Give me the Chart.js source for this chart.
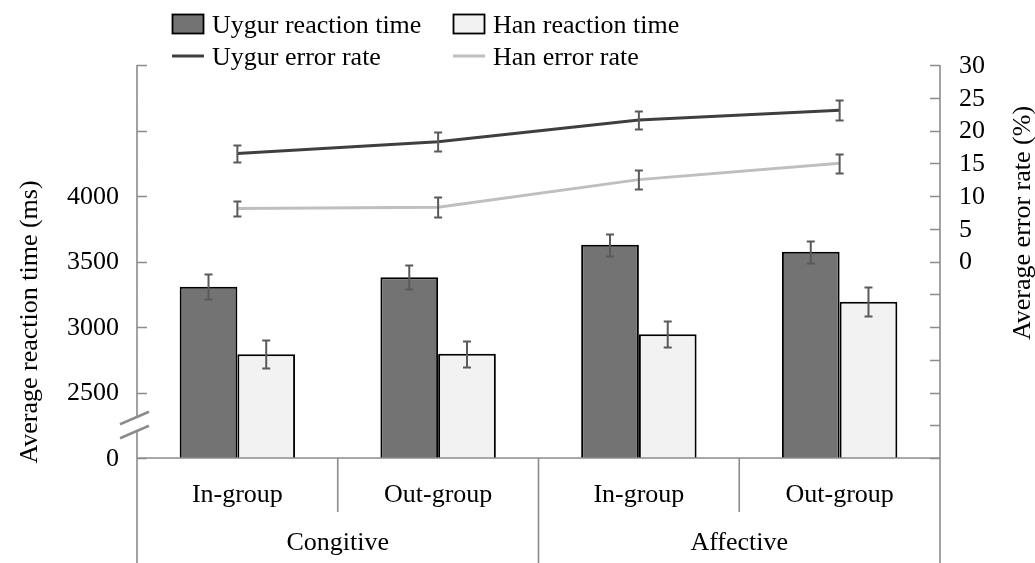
<!DOCTYPE html>
<html><head><meta charset="utf-8">
<script src="https://cdn.jsdelivr.net/npm/chart.js@4.4.0/dist/chart.umd.min.js"></script>
<style>html,body{margin:0;padding:0;background:#fff;}canvas{display:block;}</style>
</head><body>
<canvas id="c" width="1035" height="563"></canvas>
<script>
// ---- data ----
const categories = ['In-group', 'Out-group', 'In-group', 'Out-group'];
const groups = ['Congitive', 'Affective'];
const uygurRT = [3307, 3379, 3628, 3575];
const uygurRTErr = [94, 92, 85, 84];
const hanRT = [2792, 2796, 2944, 3193];
const hanRTErr = [105, 99, 100, 111];
const uygurErrRate = [16.5, 18.3, 21.6, 23.1];
const uygurErrRateSE = [1.3, 1.5, 1.4, 1.5];
const hanErrRate = [8.1, 8.3, 12.5, 15.0];
const hanErrRateSE = [1.1, 1.5, 1.45, 1.45];
const leftTickValues = [2000, 2500, 3000, 3500, 4000, 4500, 5000];
const leftTickLabels = ['0', '2500', '3000', '3500', '4000', '', ''];
const rightTickValues = [-30, -25, -20, -15, -10, -5, 0, 5, 10, 15, 20, 25, 30];
const rightTickLabels = ['', '', '', '', '', '', '0', '5', '10', '15', '20', '25', '30'];
const seriesNames = ['Uygur reaction time', 'Han reaction time', 'Uygur error rate', 'Han error rate'];
const leftTitle = 'Average reaction time (ms)';
const rightTitle = 'Average error rate (%)';

const FONT = '26px "Liberation Serif", "Times New Roman", serif';
const TEXT = '#000000';
const AXIS = '#8c8c8c';
const UY_BAR = '#737373', HAN_BAR = '#f2f2f2';
const UY_LINE = '#3f3f3f', HAN_LINE = '#bfbfbf';
const ERR = '#5a5a5a';

const overlay = {
  id: 'overlay',
  afterDraw(chart) {
    const ctx = chart.ctx, ca = chart.chartArea;
    const xs = chart.scales.x, ys = chart.scales.y, ys2 = chart.scales.y2;
    const H = chart.height;
    ctx.save();

    // error bars
    ctx.strokeStyle = ERR; ctx.lineWidth = 2;
    const drawErr = (px, val, err, scale) => {
      const t = Math.round(scale.getPixelForValue(val + err)) + 0.5;
      const b = Math.round(scale.getPixelForValue(val - err)) + 0.5;
      ctx.beginPath();
      ctx.moveTo(px, t); ctx.lineTo(px, b);
      ctx.moveTo(px - 4, t); ctx.lineTo(px + 4, t);
      ctx.moveTo(px - 4, b); ctx.lineTo(px + 4, b);
      ctx.stroke();
    };
    const sets = [[0, uygurRT, uygurRTErr, ys], [1, hanRT, hanRTErr, ys],
                  [2, uygurErrRate, uygurErrRateSE, ys2], [3, hanErrRate, hanErrRateSE, ys2]];
    sets.forEach(([di, vals, errs, sc]) => {
      const meta = chart.getDatasetMeta(di);
      meta.data.forEach((el, j) => drawErr(el.x, vals[j], errs[j], sc));
    });

    // axes
    ctx.strokeStyle = AXIS; ctx.lineWidth = 1.6;
    ctx.beginPath();
    ctx.moveTo(ca.left, ca.top); ctx.lineTo(ca.left, H);
    ctx.moveTo(ca.right, ca.top); ctx.lineTo(ca.right, H);
    ctx.moveTo(ca.left, ca.bottom); ctx.lineTo(ca.right, ca.bottom);
    leftTickValues.forEach(v => {
      const p = Math.round(ys.getPixelForValue(v)) + 0.5;
      ctx.moveTo(ca.left, p); ctx.lineTo(ca.left + 10, p);
    });
    rightTickValues.forEach(v => {
      const p = Math.round(ys2.getPixelForValue(v)) + 0.5;
      ctx.moveTo(ca.right - 10, p); ctx.lineTo(ca.right, p);
    });
    // category separators
    const centers = categories.map((c, i) => xs.getPixelForValue(i));
    for (let i = 0; i < centers.length - 1; i++) {
      const bx = (centers[i] + centers[i + 1]) / 2;
      const mid = (i + 1) % 2 === 0;
      ctx.moveTo(bx, ca.bottom); ctx.lineTo(bx, mid ? H : ca.bottom + 54);
    }
    ctx.stroke();

    // axis break marker
    const by = ys.getPixelForValue(2250);
    const x0 = ca.left - 17, x1 = ca.left + 12;
    ctx.fillStyle = '#ffffff';
    ctx.beginPath();
    ctx.moveTo(x0, by - 1); ctx.lineTo(x1, by - 13.5);
    ctx.lineTo(x1, by + 0.5); ctx.lineTo(x0, by + 13);
    ctx.closePath(); ctx.fill();
    ctx.strokeStyle = AXIS; ctx.lineWidth = 2.5;
    ctx.beginPath();
    ctx.moveTo(x0, by - 1); ctx.lineTo(x1, by - 13.5);
    ctx.moveTo(x0, by + 13); ctx.lineTo(x1, by + 0.5);
    ctx.stroke();

    // tick labels
    ctx.font = FONT; ctx.fillStyle = TEXT; ctx.textBaseline = 'middle';
    ctx.textAlign = 'right';
    leftTickValues.forEach((v, i) => {
      if (leftTickLabels[i]) ctx.fillText(leftTickLabels[i], ca.left - 18, ys.getPixelForValue(v) + 1);
    });
    ctx.textAlign = 'left';
    rightTickValues.forEach((v, i) => {
      if (rightTickLabels[i]) ctx.fillText(rightTickLabels[i], ca.right + 19, ys2.getPixelForValue(v) + 1);
    });

    // category labels
    ctx.textAlign = 'center'; ctx.textBaseline = 'alphabetic';
    categories.forEach((c, i) => ctx.fillText(c, centers[i], ca.bottom + 44));
    groups.forEach((g, k) => ctx.fillText(g, (centers[2 * k] + centers[2 * k + 1]) / 2, ca.bottom + 92));

    // axis titles
    ctx.save();
    ctx.translate(37, 322); ctx.rotate(-Math.PI / 2);
    ctx.textAlign = 'center'; ctx.fillText(leftTitle, 0, 0);
    ctx.restore();
    ctx.save();
    ctx.translate(1030, 223); ctx.rotate(-Math.PI / 2);
    ctx.textAlign = 'center'; ctx.fillText(rightTitle, 0, 0);
    ctx.restore();

    // legend
    ctx.textAlign = 'left'; ctx.textBaseline = 'alphabetic';
    const legendItems = [
      {type: 'box', fill: UY_BAR, x: 172, y: 33, name: seriesNames[0]},
      {type: 'box', fill: HAN_BAR, x: 453, y: 33, name: seriesNames[1]},
      {type: 'line', fill: UY_LINE, x: 172, y: 65, name: seriesNames[2]},
      {type: 'line', fill: HAN_LINE, x: 453, y: 65, name: seriesNames[3]}
    ];
    legendItems.forEach(it => {
      if (it.type === 'box') {
        ctx.fillStyle = it.fill; ctx.fillRect(it.x + 0.5, it.y - 18.5, 31, 19);
        ctx.strokeStyle = '#000'; ctx.lineWidth = 1.8; ctx.strokeRect(it.x + 0.5, it.y - 18.5, 31, 19);
      } else {
        ctx.strokeStyle = it.fill; ctx.lineWidth = 3;
        ctx.beginPath(); ctx.moveTo(it.x, it.y - 9); ctx.lineTo(it.x + 32, it.y - 9); ctx.stroke();
      }
      ctx.fillStyle = TEXT;
      ctx.fillText(it.name, it.x + 40, it.y);
    });
    ctx.restore();
  }
};

new Chart(document.getElementById('c'), {
  data: {
    labels: categories,
    datasets: [
      {type: 'bar', label: seriesNames[0], data: uygurRT, yAxisID: 'y', order: 1,
       backgroundColor: UY_BAR, borderColor: '#000000', borderWidth: 2, borderSkipped: false,
       categoryPercentage: 0.575, barPercentage: 1.0},
      {type: 'bar', label: seriesNames[1], data: hanRT, yAxisID: 'y', order: 1,
       backgroundColor: HAN_BAR, borderColor: '#000000', borderWidth: 2, borderSkipped: false,
       categoryPercentage: 0.575, barPercentage: 1.0},
      {type: 'line', label: seriesNames[2], data: uygurErrRate, yAxisID: 'y2', order: 0,
       borderColor: UY_LINE, borderWidth: 3, pointRadius: 0, tension: 0, fill: false},
      {type: 'line', label: seriesNames[3], data: hanErrRate, yAxisID: 'y2', order: 0,
       borderColor: HAN_LINE, borderWidth: 3, pointRadius: 0, tension: 0, fill: false}
    ]
  },
  options: {
    responsive: false,
    animation: false,
    devicePixelRatio: 1,
    layout: {padding: {left: 137, right: 95, top: 65, bottom: 105}},
    plugins: {legend: {display: false}, tooltip: {enabled: false}},
    scales: {
      x: {display: false, offset: true},
      y: {display: false, min: 2000, max: 5000},
      y2: {display: false, min: -30, max: 30, position: 'right'}
    }
  },
  plugins: [overlay]
});
</script>
</body></html>
